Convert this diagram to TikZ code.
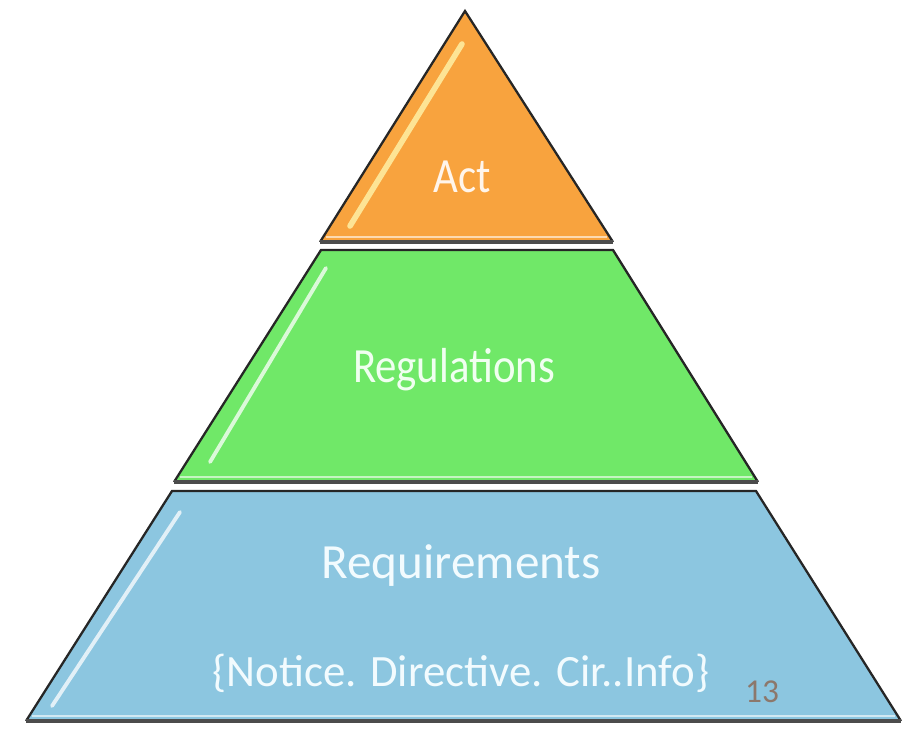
\documentclass[tikz,border=0pt]{standalone}
\usepackage{fontspec}
\setmainfont{Carlito}
\begin{document}
\begin{tikzpicture}[x=0.02cm,y=-0.02cm,
  layer/.style={line width=1.3pt,draw=black!85,line join=miter},
  baseedge/.style={line width=2.6pt,draw=black!70,line cap=butt},
  glint/.style={line width=2.2pt,draw=white,opacity=0.75,line cap=round},
  lbl/.style={inner sep=0pt,anchor=center},
  tier/.style={font=\fontsize{28}{30}\selectfont}]
  \definecolor{actfill}{RGB}{248,163,62}
  \definecolor{regfill}{RGB}{112,232,104}
  \definecolor{reqfill}{RGB}{140,198,224}
  \definecolor{pagenum}{RGB}{140,120,108}
  \useasboundingbox (0,0) rectangle (910,728);

  % corner points of the three tiers
  \coordinate (actTop) at (465,11);
  \coordinate (actBL) at (320,242);
  \coordinate (actBR) at (613,242);
  \coordinate (regTL) at (321,250);
  \coordinate (regTR) at (613,250);
  \coordinate (regBL) at (174,482);
  \coordinate (regBR) at (758,482);
  \coordinate (reqTL) at (172,491);
  \coordinate (reqTR) at (756,491);
  \coordinate (reqBL) at (26,721);
  \coordinate (reqBR) at (901,721);

  % tier bodies
  \fill[actfill] (actTop) -- (actBR) -- (actBL) -- cycle;
  \fill[regfill] (regTL) -- (regTR) -- (regBR) -- (regBL) -- cycle;
  \fill[reqfill] (reqTL) -- (reqTR) -- (reqBR) -- (reqBL) -- cycle;

  % glossy strip along each left side
  \draw[glint,line width=3.2pt,draw=yellow!30!white] (462,44) -- (350,226);
  \draw[glint] (326,268) -- (210,462);
  \draw[glint] (180,512) -- (52,706);

  % light band just above each base
  \draw[white,opacity=0.6,line width=1.2pt] (326,237) -- (607,237);
  \draw[white,opacity=0.6,line width=1.2pt] (180,477) -- (752,477);
  \draw[white,opacity=0.6,line width=1.2pt] (32,716) -- (895,716);

  % outlines
  \draw[layer] (actBL) -- (actTop) -- (actBR);
  \draw[layer] (regBL) -- (regTL) -- (regTR) -- (regBR);
  \draw[layer] (reqBL) -- (reqTL) -- (reqTR) -- (reqBR);
  \draw[baseedge] (actBL) -- (actBR);
  \draw[baseedge] (regBL) -- (regBR);
  \draw[baseedge] (reqBL) -- (reqBR);

  % labels
  \node[lbl,tier,text=orange!8!white,xscale=0.87] (act) at (462,177) {Act};
  \node[lbl,tier,text=green!6!white,xscale=0.87] (reg) at (454,370) {Regulations};
  \node[lbl,tier,text=cyan!5!white] (req) at (461,566) {Requirements};
  \node[lbl,text=cyan!5!white,font=\fontsize{25.5}{28}\selectfont] (reqsub) at (461,673) {\{Notice. Directive. Cir..Info\}};
  \node[lbl,text=pagenum,font=\fontsize{19}{21}\selectfont] (page) at (762,692) {13};
\end{tikzpicture}
\end{document}
